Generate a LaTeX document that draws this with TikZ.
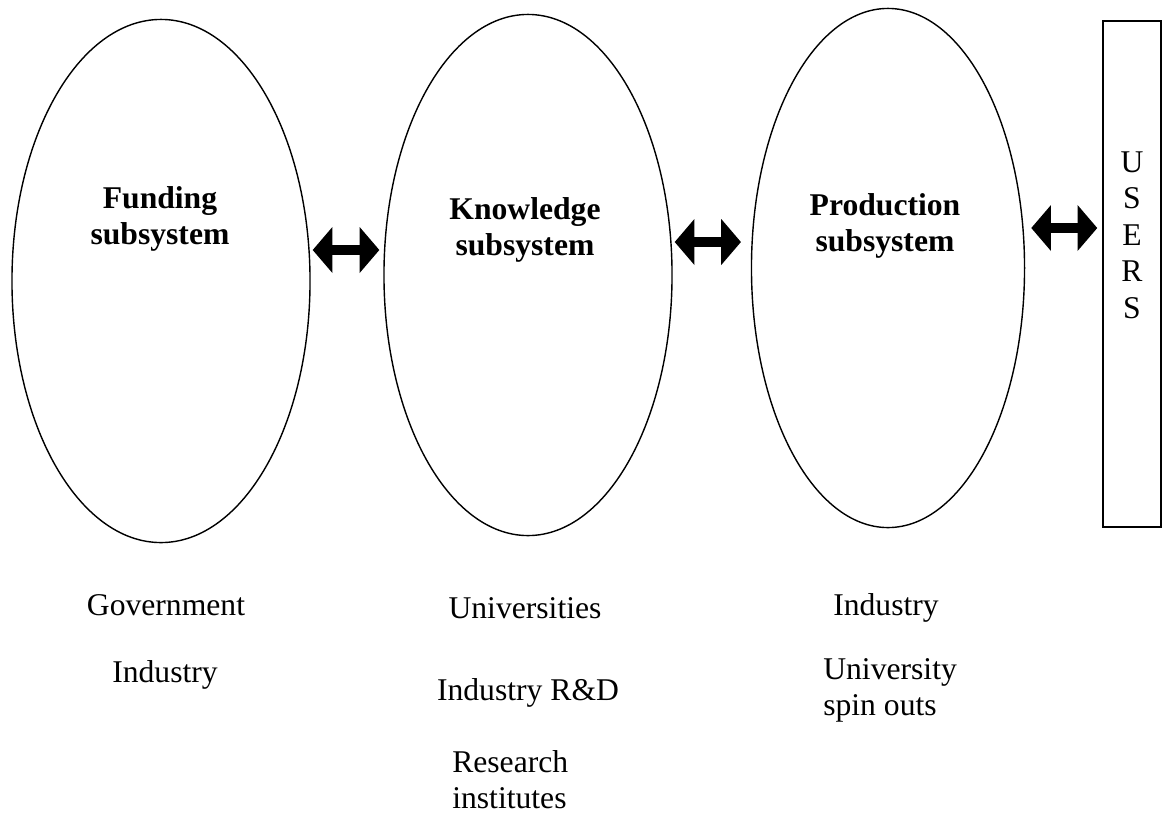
\documentclass[tikz,border=0pt]{standalone}
\usepackage{fontspec}
\setmainfont{Liberation Serif}
\usetikzlibrary{arrows.meta, shapes, positioning}

\begin{document}
\begin{tikzpicture}[x=0.025cm, y=-0.025cm, font=\fontsize{22.5}{26}\selectfont]
        \tikzstyle{subsys} = [draw, shape=ellipse, inner sep=0pt, line width=1pt]
        \tikzstyle{title} = [inner sep=0pt, align=center, font=\fontsize{22.5}{26}\selectfont\bfseries]
        \tikzstyle{actor} = [inner sep=0pt, anchor=base]
        \tikzstyle{twoway} = [line width=6.6pt, {Triangle[length=14pt,width=32.7pt,line width=0pt]}-{Triangle[length=14pt,width=32.7pt,line width=0pt]}]
        \useasboundingbox (0,0) rectangle (1163,818);
        %Creating Subsystems and Users Box
        \node [subsys, minimum width=7.45cm, minimum height=13.075cm] (fund) at (161,281) {};
        \node [subsys, minimum width=7.2cm, minimum height=13.025cm] (know) at (528,275) {};
        \node [subsys, minimum width=6.825cm, minimum height=12.975cm] (prod) at (888,268) {};
        \node [draw, line width=1pt, minimum width=1.45cm, minimum height=12.65cm] (users) at (1132,274) {};
        \node [inner sep=0pt, align=center] (userslbl) at (1132,235) {U\\S\\E\\R\\S};
        \node [title] (fundlbl) at (160,219) {Funding\\subsystem};
        \node [title] (knowlbl) at (525,230) {Knowledge\\subsystem};
        \node [title] (prodlbl) at (885,226) {Production\\subsystem};

        %Actors below each subsystem
        \node [actor] (gov) at (166,615) {Government};
        \node [actor] (indf) at (165,682) {Industry};
        \node [actor] (univ) at (525,618) {Universities};
        \node [actor] (indrd) at (528,700) {Industry R\&D};
        \node [inner sep=0pt, align=left, anchor=north west] (resinst) at (452,750) {Research\\institutes};
        \node [actor] (indp) at (886,615) {Industry};
        \node [inner sep=0pt, align=left, anchor=north west] (spinout) at (823,658) {University\\spin outs};

        %Connecting Subsystems
        \draw [twoway, shorten <=1.4pt, shorten >=2.8pt] (fund.east |- 0,250) -- (know.west |- 0,250);
        \draw [twoway, shorten <=1.4pt, shorten >=7pt] (know.east |- 0,242) -- (prod.west |- 0,242);
        \draw [twoway, shorten <=4.3pt, shorten >=3.6pt] (prod.east |- 0,228) -- (users.west |- 0,228);
\end{tikzpicture}
\end{document}
